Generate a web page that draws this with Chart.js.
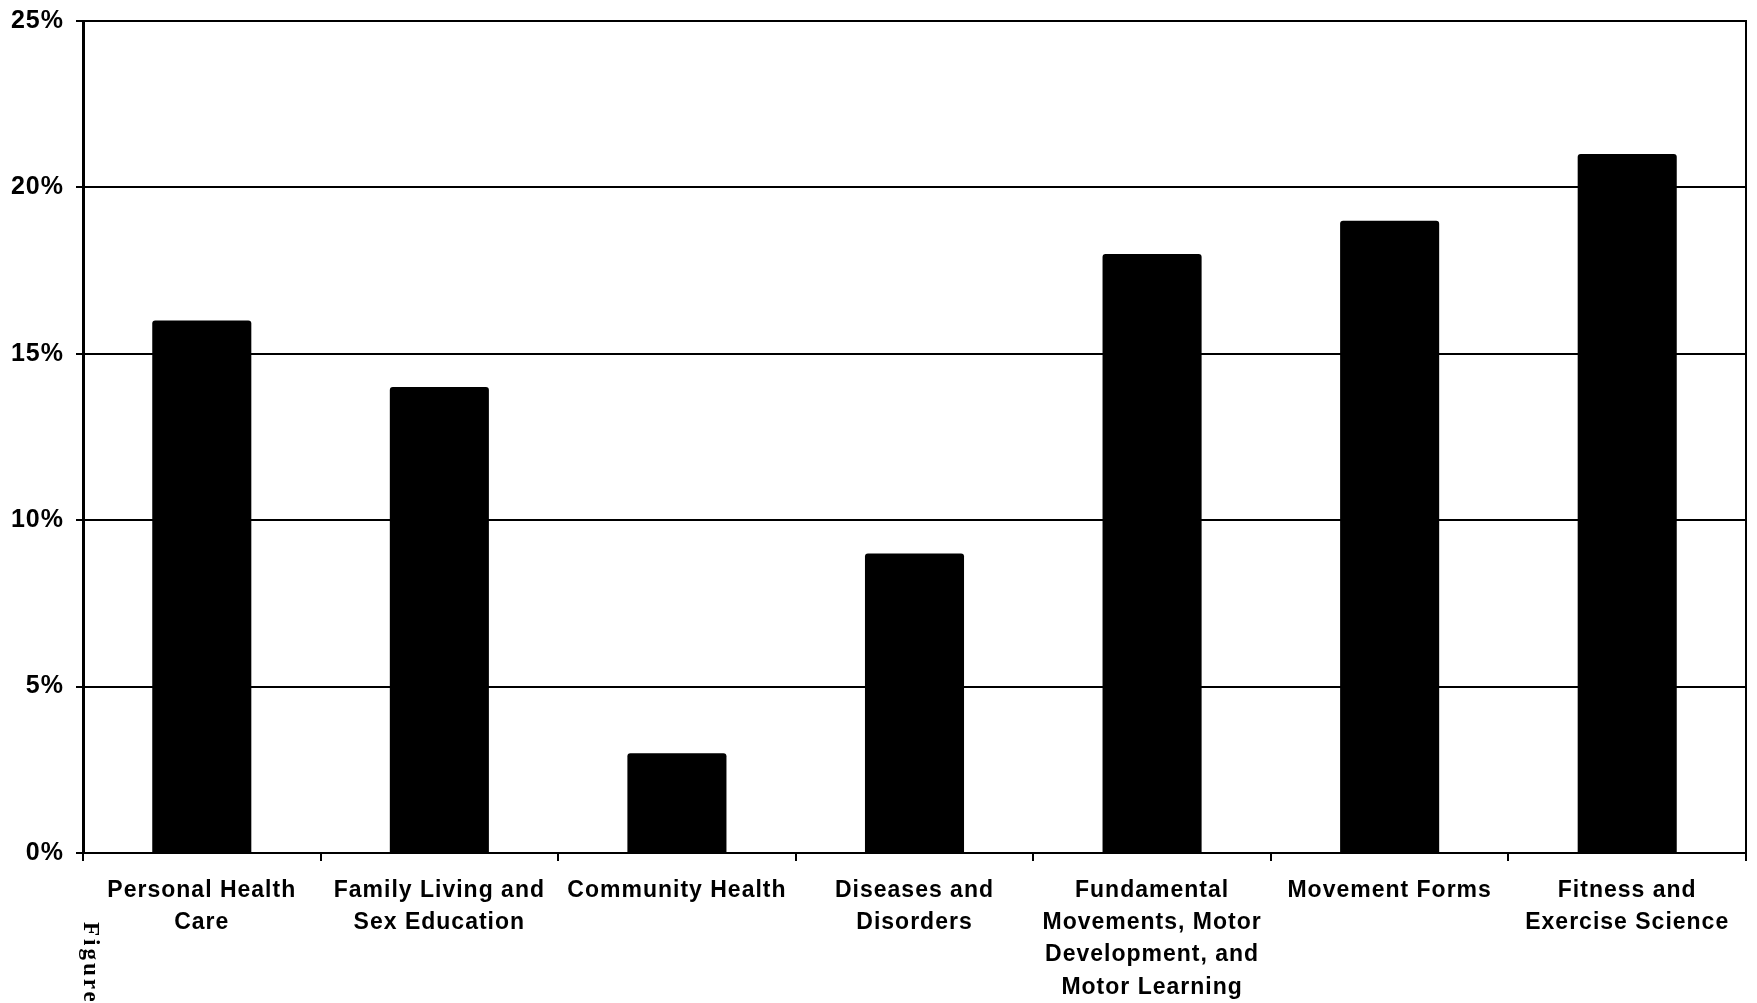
<!DOCTYPE html>
<html>
<head>
<meta charset="utf-8">
<script src="https://cdn.jsdelivr.net/npm/chart.js@4"></script>
<style>
  html, body { margin: 0; padding: 0; background: #ffffff; }
  #wrap { width: 1757px; height: 1003px; position: relative; }
</style>
</head>
<body>
<div id="wrap"><canvas id="chart" width="1757" height="1003"></canvas></div>
<script>
// Share of content by topic area
const categories = [
  ["Personal Health", "Care"],
  ["Family Living and", "Sex Education"],
  ["Community Health"],
  ["Diseases and", "Disorders"],
  ["Fundamental", "Movements, Motor", "Development, and", "Motor Learning"],
  ["Movement Forms"],
  ["Fitness and", "Exercise Science"]
];
const shareValues = [16, 14, 3, 9, 18, 19, 21];
const yTicks = [0, 5, 10, 15, 20, 25];

const FAMILY = "'Liberation Sans', Arial, sans-serif";

// Slightly wider letter spacing for all chart text
const spacingPlugin = {
  id: "spacing",
  beforeLayout(chart) { chart.ctx.letterSpacing = "1px"; },
  beforeDraw(chart) { chart.ctx.letterSpacing = "1px"; }
};

// Right-hand frame line plus the rotated caption fragment at lower left
const framePlugin = {
  id: "frame",
  afterDraw(chart) {
    const { ctx, chartArea } = chart;
    ctx.save();
    ctx.strokeStyle = "#000";
    ctx.lineWidth = 2;
    ctx.beginPath();
    ctx.moveTo(chartArea.right, chartArea.top - 1);
    ctx.lineTo(chartArea.right, chartArea.bottom + 8);
    ctx.stroke();

    ctx.translate(84, 922);
    ctx.rotate(Math.PI / 2);
    ctx.fillStyle = "#000";
    ctx.font = "bold 23px 'Liberation Serif', 'Times New Roman', serif";
    ctx.letterSpacing = "3px";
    ctx.textBaseline = "alphabetic";
    ctx.textAlign = "left";
    ctx.fillText("Figure", 0, 0);
    ctx.restore();
  }
};

new Chart(document.getElementById("chart"), {
  type: "bar",
  data: {
    labels: categories,
    datasets: [{
      data: shareValues,
      backgroundColor: "#000",
      borderWidth: 0,
      borderRadius: 3,
      categoryPercentage: 1,
      barPercentage: 0.417
    }]
  },
  options: {
    responsive: false,
    animation: false,
    layout: { padding: { top: 21, right: 11, left: 0, bottom: 0 } },
    plugins: { legend: { display: false }, tooltip: { enabled: false } },
    scales: {
      x: {
        offset: true,
        grid: {
          offset: true,
          drawOnChartArea: false,
          drawTicks: true,
          tickLength: 8,
          color: "#000",
          lineWidth: 2
        },
        border: { display: true, color: "#000", width: 2 },
        ticks: {
          color: "#000",
          font: { family: FAMILY, size: 23, weight: "bold", lineHeight: 1.41 },
          padding: 13,
          maxRotation: 0,
          autoSkip: false
        },
        afterFit(scale) {
          scale.height = 150;
          scale.paddingLeft = 0;
          scale.paddingRight = 0;
        }
      },
      y: {
        min: 0,
        max: 25,
        afterBuildTicks(scale) { scale.ticks = yTicks.map(v => ({ value: v })); },
        grid: {
          color: "#000",
          lineWidth: 2,
          drawTicks: true,
          tickLength: 7
        },
        border: { display: true, color: "#000", width: 3 },
        ticks: {
          color: "#000",
          font: { family: FAMILY, size: 25, weight: "bold" },
          padding: 12,
          callback: v => v + "%"
        },
        afterFit(scale) {
          scale.width = 83;
          scale.paddingTop = 0;
          scale.paddingBottom = 0;
        }
      }
    }
  },
  plugins: [spacingPlugin, framePlugin]
});
</script>
</body>
</html>
